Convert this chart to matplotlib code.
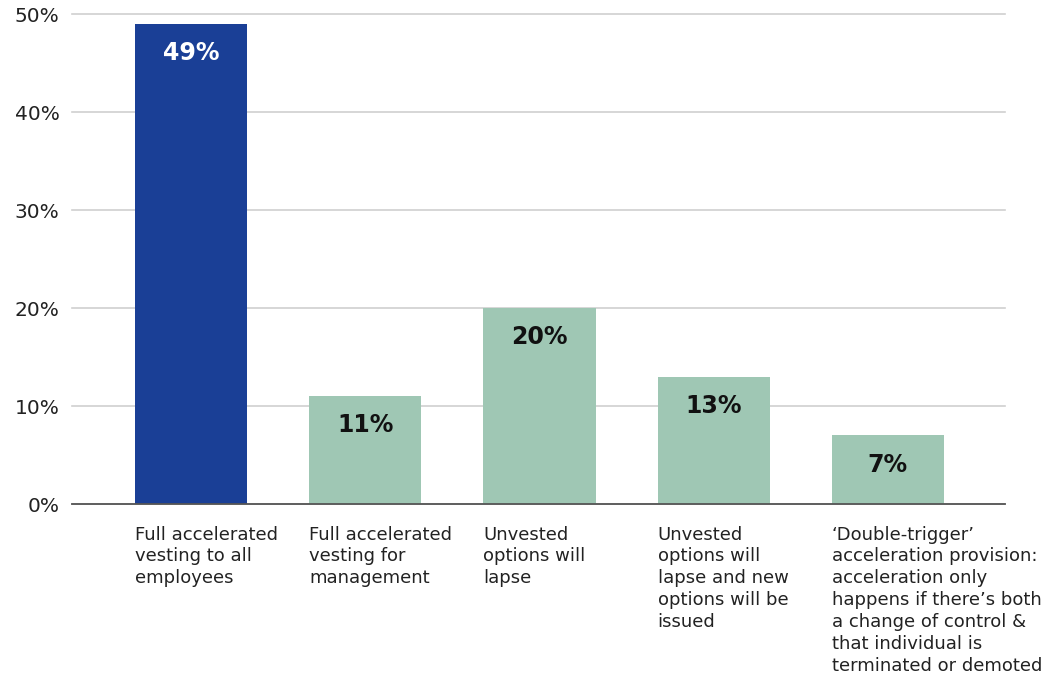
import matplotlib.pyplot as plt
import numpy as np

categories = [
    "Full accelerated\nvesting to all\nemployees",
    "Full accelerated\nvesting for\nmanagement",
    "Unvested\noptions will\nlapse",
    "Unvested\noptions will\nlapse and new\noptions will be\nissued",
    "\u2018Double-trigger\u2019\nacceleration provision:\nacceleration only\nhappens if there\u2019s both\na change of control &\nthat individual is\nterminated or demoted",
]
values = [49, 11, 20, 13, 7]
value_labels = ["49%", "11%", "20%", "13%", "7%"]
colors = ["#1a3f96", "#9fc7b4", "#9fc7b4", "#9fc7b4", "#9fc7b4"]
label_colors = ["white", "#111111", "#111111", "#111111", "#111111"]

plt.rcParams['font.family'] = ['DejaVu Sans']

fig = plt.figure(figsize=(10.64, 6.74), dpi=100)
ax = fig.add_axes([0.0677, 0.2522, 0.8768, 0.727])

x = np.arange(len(values))
width = 0.644
bars = ax.bar(x, values, width=width, color=colors, zorder=3)

for xi, v, lab, c in zip(x, values, value_labels, label_colors):
    ax.annotate(lab, (xi, v), xytext=(0, -21), textcoords="offset points",
                ha="center", va="center", fontsize=17, fontweight="bold", color=c, zorder=4)

# category labels left-aligned under each bar
for xi, cat in zip(x, categories):
    ax.text(xi - width / 2, -2.2, cat, ha="left", va="top", fontsize=13,
            color="#222222", linespacing=1.28)

ax.set_xlim(-0.684, 4.672)
ax.set_ylim(0, 50)
ax.set_yticks([0, 10, 20, 30, 40, 50])
ax.set_yticklabels(["0%", "10%", "20%", "30%", "40%", "50%"], fontsize=14.5, color="#222222")
ax.set_xticks([])
ax.tick_params(axis="y", length=0, pad=9)
ax.grid(axis="y", color="#d0d0d0", linewidth=1.2, zorder=0)
for gl in ax.get_ygridlines():
    gl.set_clip_on(False)

for s in ["top", "right", "left"]:
    ax.spines[s].set_visible(False)
ax.spines["bottom"].set_color("#555555")
ax.spines["bottom"].set_linewidth(1.3)
ax.spines["bottom"].set_zorder(5)

fig.savefig("out.png", dpi=100)
